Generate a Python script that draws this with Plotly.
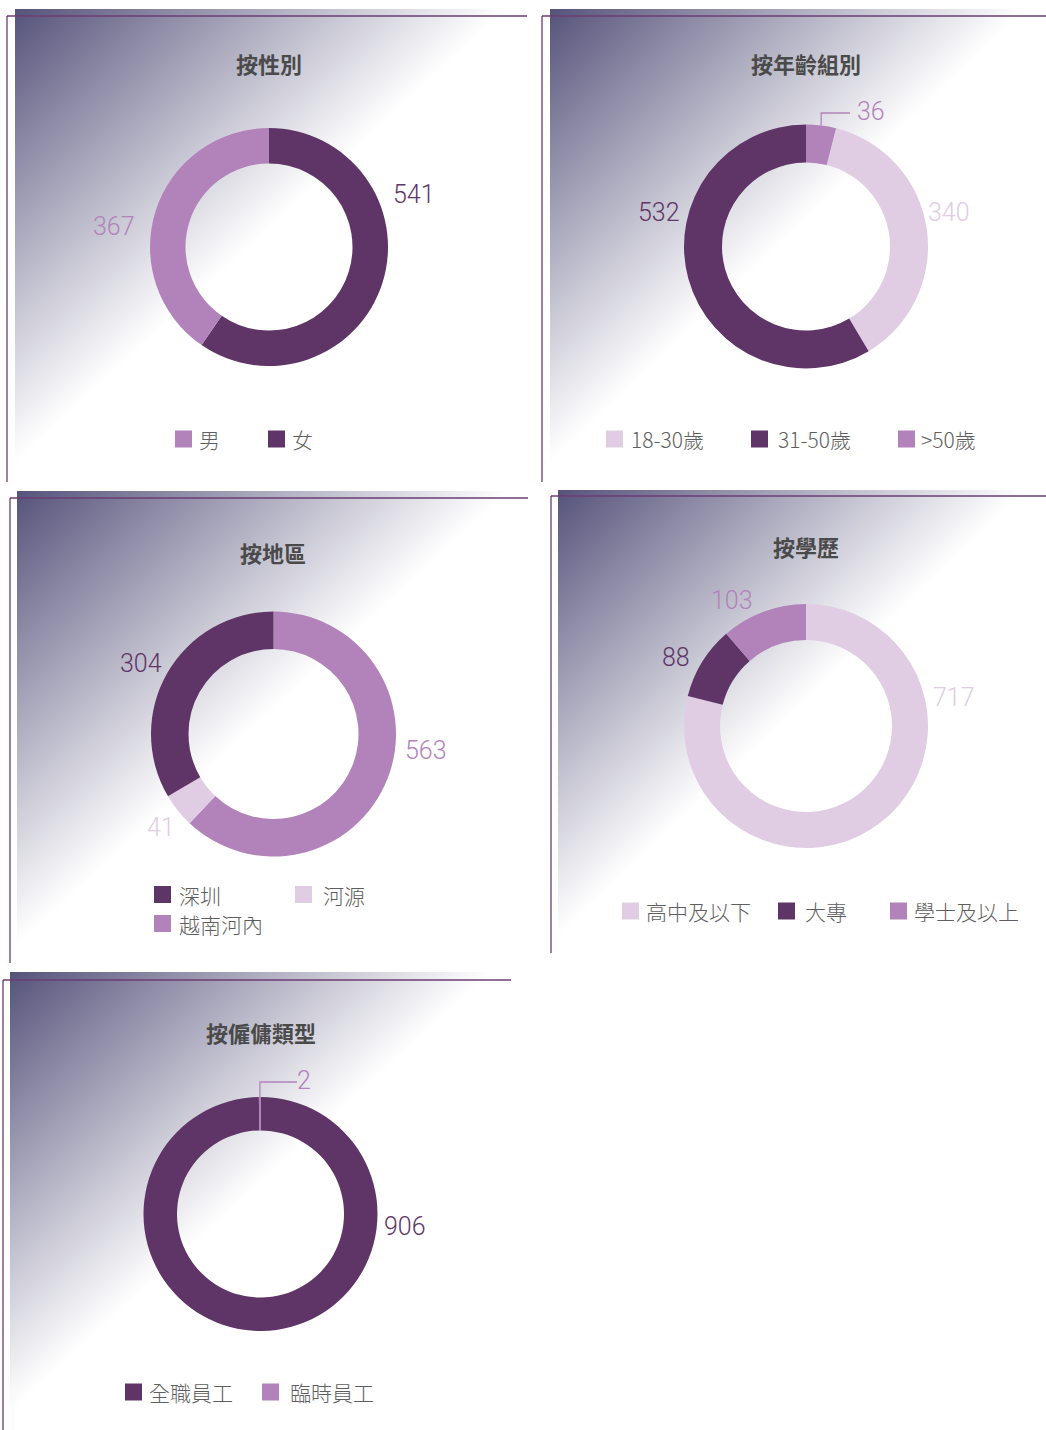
import base64
import math
import plotly.graph_objects as go

W, H = 1046, 1430

# ---------------- data ----------------
titles = ["按性別", "按年齡組別", "按地區", "按學歷", "按僱傭類型"]

gender_labels = ["男", "女"]
gender_values = [367, 541]

age_labels = ["18-30歲", "31-50歲", ">50歲"]
age_values = [340, 532, 36]

region_labels = ["深圳", "河源", "越南河內"]
region_values = [304, 41, 563]

edu_labels = ["高中及以下", "大專", "學士及以上"]
edu_values = [717, 88, 103]

emp_labels = ["全職員工", "臨時員工"]
emp_values = [906, 2]

# ---------------- styles ----------------
DARK = "#5e3566"
MED = "#b283ba"
LIGHT = "#e0cce3"
BORDER = "#6b3c73"
GRAD_DARK = "#56537b"
TITLE_COLOR = "#4a4a4a"
LEGEND_COLOR = "#5e5e5e"
CJK = "Noto Sans CJK TC"
NUM_FONT = "Roboto"


def ax(x):
    return x / W


def ay(y):
    return 1 - y / H


def gradient_uri(w, h):
    svg = (f'<svg xmlns="http://www.w3.org/2000/svg" width="{w}" height="{h}" '
           f'viewBox="0 0 {w} {h}" preserveAspectRatio="none">'
           '<defs><linearGradient id="g" x1="0" y1="0" x2="1" y2="1">'
           f'<stop offset="0" stop-color="{GRAD_DARK}"/>'
           '<stop offset="0.48" stop-color="#ffffff"/>'
           '</linearGradient></defs>'
           f'<rect x="0" y="0" width="{w}" height="{h}" fill="url(#g)"/></svg>')
    return "data:image/svg+xml;base64," + base64.b64encode(svg.encode()).decode()


def slice_mid_angle(values, order, rotation, idx):
    total = sum(values)
    a = rotation
    for j in order:
        span = 360.0 * values[j] / total
        if j == idx:
            return a + span / 2
        a += span
    return a


panels = [
    dict(labels=gender_labels, values=gender_values, colors=[MED, DARK], title=titles[0],
         order=[1, 0], rot_first=None,
         bg=(15, 9, 527, 482), border=(7, 16, 527, 482),
         center=(269, 247), R=119, r=83.5, title_xy=(269, 63),
         label_xy=[(114, 226), (414, 195)],
         legend=[(175, 198, 439), (268, 291, 439)], leader=None),
    dict(labels=age_labels, values=age_values, colors=[LIGHT, DARK, MED], title=titles[1],
         order=[0, 1, 2], rot_first=2,
         bg=(550, 9, 1046, 482), border=(542, 16, 1046, 482),
         center=(806, 246.5), R=122, r=84, title_xy=(806, 63),
         label_xy=[(949, 213), (658.5, 213), (871, 111)],
         legend=[(606, 630, 439), (751, 777, 439), (898, 920, 439)],
         leader=dict(idx=2, start="outer", elbow_y=113, end_x=850)),
    dict(labels=region_labels, values=region_values, colors=[DARK, LIGHT, MED], title=titles[2],
         order=[2, 1, 0], rot_first=None,
         bg=(17, 491, 530, 965), border=(10, 498, 528, 963),
         center=(273.5, 734), R=122.5, r=85, title_xy=(273, 552),
         label_xy=[(141, 663), (161, 827), (426, 750)],
         legend=[(154, 178, 894.5), (295, 322, 894.5), (154, 178, 923.5)], leader=None),
    dict(labels=edu_labels, values=edu_values, colors=[LIGHT, DARK, MED], title=titles[3],
         order=[0, 1, 2], rot_first=None,
         bg=(558, 490, 1046, 955), border=(551, 496, 1046, 953),
         center=(806, 726), R=122, r=86, title_xy=(806, 546),
         label_xy=[(954, 697), (676, 657), (732, 600)],
         legend=[(622, 645, 911), (778, 804, 911), (890, 913, 911)], leader=None),
    dict(labels=emp_labels, values=emp_values, colors=[DARK, MED], title=titles[4],
         order=[0, 1], rot_first=None,
         bg=(10, 972, 512, 1430), border=(3, 980, 511, 1430),
         center=(260.5, 1214), R=117, r=83.5, title_xy=(261, 1032),
         label_xy=[(404.5, 1226.5), (303.5, 1080)],
         legend=[(125, 148, 1392), (262, 289, 1392)],
         leader=dict(idx=1, start="inner", elbow_y=1082, end_x=297)),
]

fig = go.Figure()
images, shapes, annotations = [], [], []
SQ = 17

for p in panels:
    # gradient background
    x0, y0, x1, y1 = p["bg"]
    images.append(dict(source=gradient_uri(x1 - x0, y1 - y0), xref="paper", yref="paper",
                       x=ax(x0), y=ay(y0), sizex=(x1 - x0) / W, sizey=(y1 - y0) / H,
                       xanchor="left", yanchor="top", sizing="stretch", layer="below"))
    # border lines (top + left)
    bx0, by0, bx1, by1 = p["border"]
    shapes.append(dict(type="line", xref="paper", yref="paper", x0=ax(bx0), x1=ax(bx1),
                       y0=ay(by0), y1=ay(by0), line=dict(color=BORDER, width=1.3)))
    shapes.append(dict(type="line", xref="paper", yref="paper", x0=ax(bx0), x1=ax(bx0),
                       y0=ay(by0), y1=ay(by1), line=dict(color=BORDER, width=1.3)))

    vals = p["values"]
    total = sum(vals)
    order = p["order"]
    rotation = 0.0
    if p["rot_first"] is not None:
        rotation = 360.0 * vals[p["rot_first"]] / total
    cx, cy = p["center"]
    R, r = p["R"], p["r"]
    fig.add_trace(go.Pie(
        labels=[p["labels"][i] for i in order],
        values=[vals[i] for i in order],
        marker=dict(colors=[p["colors"][i] for i in order], line=dict(width=0)),
        hole=r / R, sort=False, direction="clockwise", rotation=rotation,
        textinfo="none", showlegend=False, hoverinfo="label+value",
        domain=dict(x=[ax(cx - R), ax(cx + R)], y=[ay(cy + R), ay(cy - R)]),
    ))

    # title
    tx, ty = p["title_xy"]
    annotations.append(dict(text=p["title"], xref="paper", yref="paper", x=ax(tx), y=ay(ty),
                            xanchor="center", yanchor="middle", showarrow=False,
                            font=dict(family=CJK, size=22, color=TITLE_COLOR, weight=700)))
    # value labels
    for i, (lx, ly) in enumerate(p["label_xy"]):
        annotations.append(dict(text=str(vals[i]), xref="paper", yref="paper", x=ax(lx), y=ay(ly),
                                xanchor="center", yanchor="middle", showarrow=False,
                                font=dict(family=NUM_FONT, size=25, color=p["colors"][i], weight=300)))
    # leader line
    ld = p["leader"]
    if ld is not None:
        mid = math.radians(slice_mid_angle(vals, order, rotation, ld["idx"]))
        rad = R if ld["start"] == "outer" else r
        sx = cx + rad * math.sin(mid)
        sy = cy - rad * math.cos(mid)
        shapes.append(dict(type="path", xref="paper", yref="paper",
                           path=f"M {ax(sx)},{ay(sy)} L {ax(sx)},{ay(ld['elbow_y'])} L {ax(ld['end_x'])},{ay(ld['elbow_y'])}",
                           line=dict(color=p["colors"][ld["idx"]], width=1.3)))
    # legend
    for i, (sqx, txx, ly) in enumerate(p["legend"]):
        shapes.append(dict(type="rect", xref="paper", yref="paper",
                           x0=ax(sqx), x1=ax(sqx + SQ), y0=ay(ly - SQ / 2), y1=ay(ly + SQ / 2),
                           fillcolor=p["colors"][i], line=dict(width=0)))
        annotations.append(dict(text=p["labels"][i], xref="paper", yref="paper", x=ax(txx), y=ay(ly),
                                xanchor="left", yanchor="middle", showarrow=False, borderpad=0,
                                font=dict(family=CJK, size=21, color=LEGEND_COLOR, weight=300)))

fig.update_layout(
    width=W, height=H, margin=dict(l=0, r=0, t=0, b=0),
    paper_bgcolor="white", plot_bgcolor="white", showlegend=False,
    images=images, shapes=shapes, annotations=annotations,
)

fig.write_html("out.html", config={"displayModeBar": False},
               post_script="document.body.style.margin='0';document.body.style.overflow='hidden';")
